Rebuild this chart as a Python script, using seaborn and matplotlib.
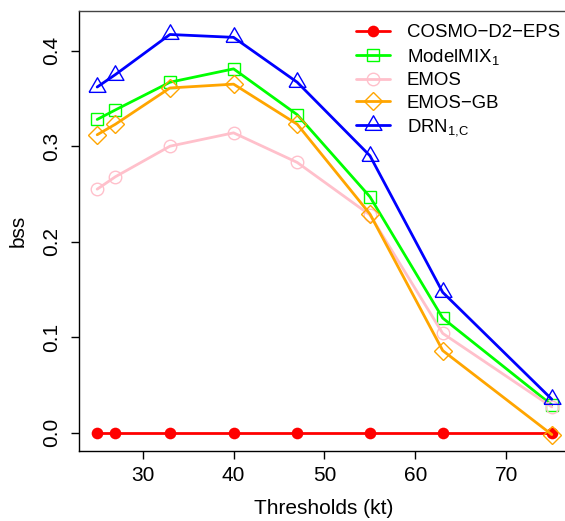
import matplotlib
matplotlib.use("Agg")
import matplotlib.pyplot as plt
import seaborn as sns
import pandas as pd
import numpy as np

thresholds = [25, 27, 33, 40, 47, 55, 63, 75]
cosmo = [0, 0, 0, 0, 0, 0, 0, 0]
modelmix = [0.328, 0.338, 0.367, 0.381, 0.333, 0.247, 0.120, 0.029]
emos = [0.255, 0.268, 0.300, 0.314, 0.283, 0.228, 0.104, 0.027]
emos_gb = [0.312, 0.323, 0.361, 0.365, 0.323, 0.229, 0.086, -0.002]
drn = [0.362, 0.375, 0.417, 0.414, 0.367, 0.290, 0.147, 0.035]

labels = ["COSMO\u2212D2\u2212EPS", "ModelMIX$_1$", "EMOS", "EMOS\u2212GB", "DRN$_{1{,}C}$"]
series = [cosmo, modelmix, emos, emos_gb, drn]
colors = ["#FF0000", "#00FF00", "#FFC0CB", "#FFA500", "#0000FF"]

tri = [(-1, -0.577), (1, -0.577), (0, 1.155), (-1, -0.577)]
styles = [
    dict(marker="o", markersize=8.4, markerfacecolor="#FF0000", markeredgewidth=0),
    dict(marker="s", markersize=9.0, markerfacecolor="none", markeredgewidth=1.0),
    dict(marker="o", markersize=9.0, markerfacecolor="none", markeredgewidth=1.0),
    dict(marker="D", markersize=9.0, markerfacecolor="none", markeredgewidth=1.0),
    dict(marker=tri, markersize=14.0, markerfacecolor="none", markeredgewidth=1.0),
]

sns.set_style("ticks")
plt.rcParams["font.family"] = ["Liberation Sans", "DejaVu Sans"]
plt.rcParams["mathtext.fontset"] = "custom"
plt.rcParams["mathtext.rm"] = "Liberation Sans"
plt.rcParams["mathtext.it"] = "Liberation Sans"
plt.rcParams["mathtext.default"] = "regular"
plt.rcParams["text.color"] = "black"
plt.rcParams["axes.labelcolor"] = "black"
plt.rcParams["xtick.color"] = "black"
plt.rcParams["ytick.color"] = "black"
plt.rcParams["xtick.labelcolor"] = "black"
plt.rcParams["ytick.labelcolor"] = "black"

fig = plt.figure(figsize=(5.65, 5.21), dpi=100)
ax = fig.add_axes([79 / 565, 70 / 521, 491 / 565, 440 / 521])

for lab, vals, col, st in zip(labels, series, colors, styles):
    df = pd.DataFrame({"Thresholds": thresholds, "bss": vals})
    sns.lineplot(data=df, x="Thresholds", y="bss", color=col, linewidth=2.0,
                 label=lab, ax=ax, markeredgecolor=col, **st)

ax.set_xlim(23, 77)
ax.set_ylim(-0.0192, 0.4416)
ax.set_xticks([30, 40, 50, 60, 70])
ax.set_yticks([0.0, 0.1, 0.2, 0.3, 0.4])
ax.set_yticklabels(["0.0", "0.1", "0.2", "0.3", "0.4"])
ax.tick_params(axis="both", labelsize=15, length=6, width=1.0, color="black",
               labelcolor="black")
ax.tick_params(axis="x", pad=5)
ax.tick_params(axis="y", pad=7)
for t in ax.get_yticklabels():
    t.set_rotation(90)
    t.set_va("center")

for s in ax.spines.values():
    s.set_visible(True)
    s.set_linewidth(1.0)
    s.set_color("black")
ax.spines["top"].set_color("#444444")

ax.set_xlabel("Thresholds (kt)", fontsize=15, color="black")
ax.set_ylabel("bss", fontsize=15, color="black")
ax.xaxis.set_label_coords(0.499, (451 - 509) / 440)
ax.xaxis.label.set_va("center")
ax.yaxis.set_label_coords((18.5 - 79) / 491, 0.5)
ax.yaxis.label.set_va("center")

ax.get_legend().remove()
handles, labs = ax.get_legend_handles_labels()
leg = fig.legend(handles, labs, loc="upper left", bbox_to_anchor=(356 / 565, 1 - 24 / 521),
                 frameon=False, fontsize=13.4, borderpad=0, borderaxespad=0,
                 handlelength=1.83, handletextpad=0.9, labelspacing=0.3)
for t in leg.get_texts():
    t.set_color("black")

fig.savefig("out.png", dpi=100)
